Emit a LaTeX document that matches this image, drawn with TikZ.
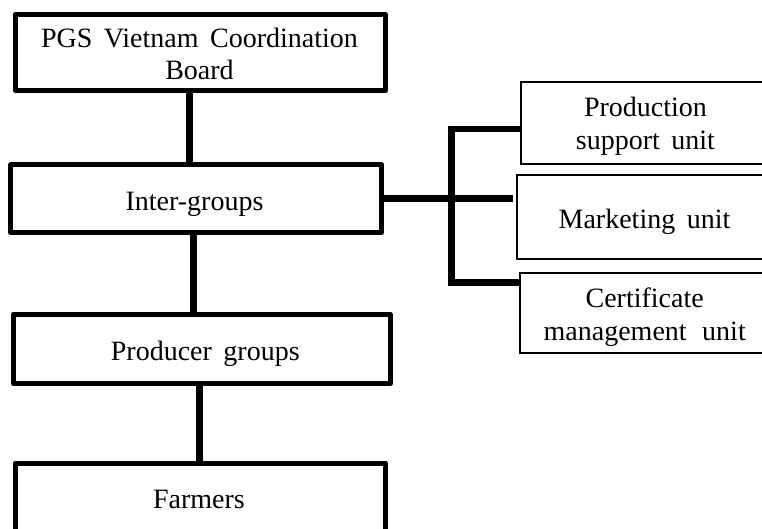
\documentclass[tikz,border=0pt]{standalone}
\usepackage{fontspec}
\setmainfont{Liberation Serif}
% wider word spacing for the labels
\newcommand{\labelfont}{\fontsize{28}{32.5}\selectfont\spaceskip=11.5pt\relax}
\begin{document}
\begin{tikzpicture}[x=1pt,y=-1pt,
  box/.style={draw, rectangle, line width=5pt, line join=round, inner sep=0pt},
  unitbox/.style={draw, rectangle, line width=2pt, inner sep=0pt},
  link/.style={line width=6.5pt, line cap=butt, line join=miter},
  txt/.style={inner sep=0pt, align=center, font=\labelfont}]
\useasboundingbox (0,0) rectangle (762,529);
\clip (0,0) rectangle (762,529);

% main hierarchy
\node[box, minimum width=370.3pt, minimum height=75.7pt] (b1) at (200.35,52.45) {};
\node[box, minimum width=370.9pt, minimum height=67.7pt] (b2) at (196.25,198.65) {};
\node[box, minimum width=376.7pt, minimum height=69.5pt] (b3) at (201.85,348.85) {};
\node[box, minimum width=370pt, minimum height=68pt] (b4) at (200.2,497) {};

% units attached to the inter-groups
\node[unitbox, minimum width=252.5pt, minimum height=82pt] (pu) at (646.75,123) {};
\node[unitbox, minimum width=256pt, minimum height=83.5pt] (mu) at (645,216.75) {};
\node[unitbox, minimum width=253pt, minimum height=80pt] (cu) at (646.5,313) {};

% labels (base anchor sits on the last line)
\node[txt, anchor=base] (l1) at (199.5,80) {PGS Vietnam Coordination\\Board};
\node[txt, anchor=base] (l2) at (194.5,210.7) {Inter-groups};
\node[txt, anchor=base] (l3) at (205.3,360.7) {Producer groups};
\node[txt, anchor=base] (l4) at (199,508.5) {Farmers};
\node[txt, anchor=base] (lp) at (645.5,149.5) {Production\\support unit};
\node[txt, anchor=base] (lm) at (644.5,228.3) {Marketing unit};
\node[txt, anchor=base] (lc) at (644.7,340) {Certificate\\management\hspace{4pt} unit};

% vertical links
\draw[link] (b1.south -| 189.5,0) -- (b2.north -| 189.5,0);
\draw[link] (b2.south -| 193.3,0) -- (b3.north -| 193.3,0);
\draw[link] (b3.south -| 199.5,0) -- (b4.north -| 199.5,0);

% bracket to the units
\coordinate (jt) at (451.7,129.2);
\coordinate (jb) at (451.7,282.7);
\draw[link, shorten >=3pt] (b2.east) -- (b2.east -| mu.west);
\draw[link] (pu.west |- jt) -- (jt) -- (jb) -- (cu.west |- jb);
\end{tikzpicture}
\end{document}
